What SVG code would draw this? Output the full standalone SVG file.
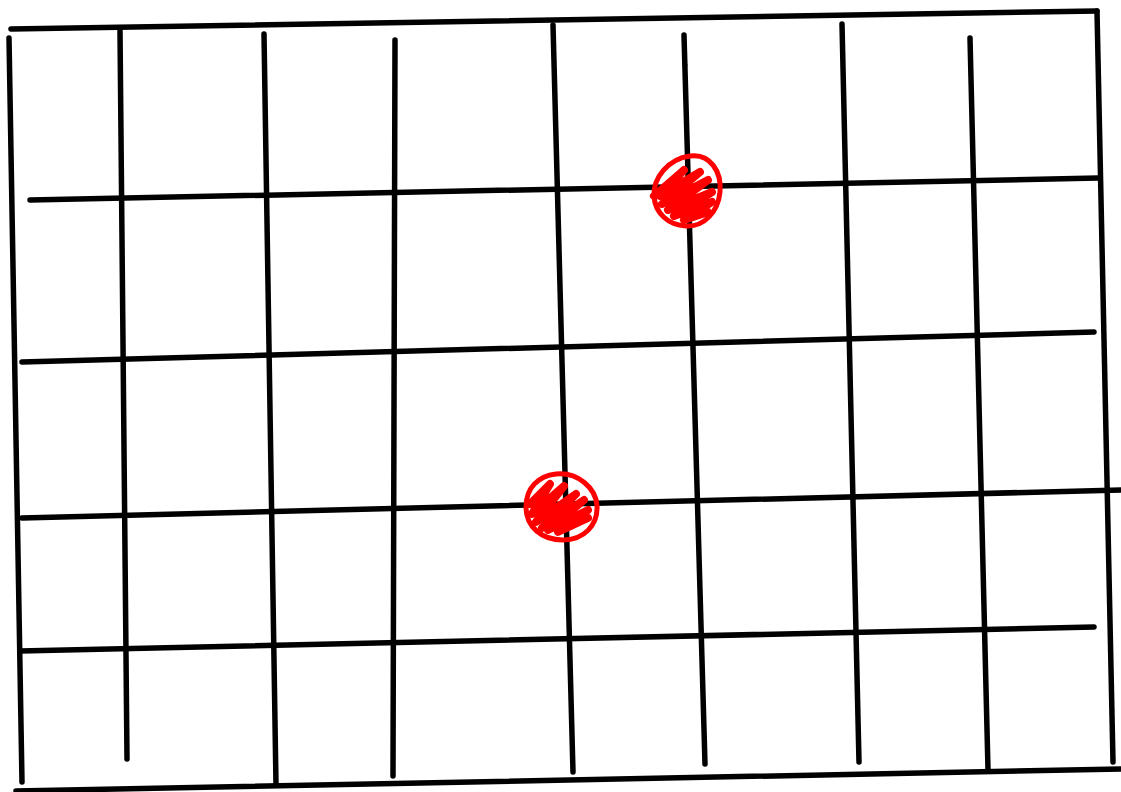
<svg xmlns="http://www.w3.org/2000/svg" width="1121" height="792" viewBox="0 0 1121 792">
<style>
.l{stroke:#000;stroke-width:5.5;stroke-linecap:round;fill:none}
.r{stroke:#f00;stroke-width:5;stroke-linecap:round;stroke-linejoin:round;fill:none}
.s{stroke:#f00;stroke-width:8;stroke-linecap:round;stroke-linejoin:round;fill:none}
</style>
<rect width="1121" height="792" fill="#fff"/>
<g id="grid">
<path class="l" d="M11,29 L1097,11"/>
<path class="l" d="M9,38 L22,782"/>
<path class="l" d="M1097,11 L1113,762"/>
<path class="l" d="M16,791 L1121,769"/>
<path class="l" d="M30,200 L1098,178"/>
<path class="l" d="M22,362 L1094,332"/>
<path class="l" d="M22,518 L1121,490"/>
<path class="l" d="M20,651 L1094,627"/>
<path class="l" d="M120,31 L127,759"/>
<path class="l" d="M264,34 L276,785"/>
<path class="l" d="M395,40 L393,776"/>
<path class="l" d="M553,25 L573,772"/>
<path class="l" d="M684,35 L705,764"/>
<path class="l" d="M842,24 L859,762"/>
<path class="l" d="M970,38 L988,770"/>
<circle cx="686" cy="65" r="1.5" fill="#000"/>
</g>
<g id="dot1">
<path class="r" d="M690,156 C710,153 722,172 720,192 C718,212 704,227 686,226 C668,225 655,213 654,196 C653,178 668,159 690,156 Z"/>
<path class="s" d="M654,196 L684,170 L660,196 L700,172 L662,204 L708,180 L668,210 L712,192 L674,216 L712,202 L684,220 L708,212"/>
</g>
<g id="dot2">
<path class="r" d="M556,474 C578,472 596,488 597,506 C598,525 584,540 563,540 C542,540 526,527 526,507 C526,488 538,476 556,474 Z"/>
<path class="s" d="M530,504 L550,484 L532,514 L564,486 L536,522 L576,494 L542,528 L584,500 L548,530 L588,510 L558,532 L588,518"/>
</g>
</svg>
